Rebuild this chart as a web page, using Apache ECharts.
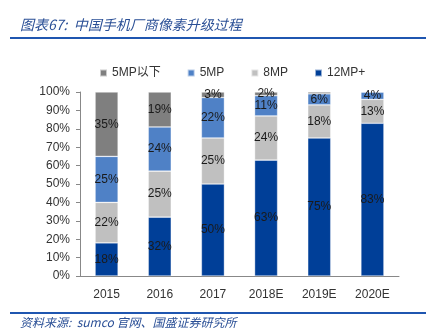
<!DOCTYPE html>
<html><head><meta charset="utf-8">
<script src="https://cdn.jsdelivr.net/npm/echarts@6/dist/echarts.min.js"></script>
<style>html,body{margin:0;padding:0;background:#fff}#c{width:427px;height:334px}</style>
</head><body><div id="c"></div>
<script>
const categories = ['2015','2016','2017','2018E','2019E','2020E'];
const mp12 = [18,32,50,63,75,83];
const mp8 = [22,25,25,24,18,13];
const mp5 = [25,24,22,11,6,4];
const below5 = [35,19,3,2,1,0];
const seriesNames = ['5MP以下','5MP','8MP','12MP+'];
const yTicks = ['0%','10%','20%','30%','40%','50%','60%','70%','80%','90%','100%'];

const font = '"Liberation Sans","DejaVu Sans","Noto Sans CJK SC",sans-serif';
const chart = echarts.init(document.getElementById('c'));
function mk(name, data, color){
  return {name, type:'bar', stack:'s', data, barWidth:23,
    itemStyle:{color, borderColor:'rgba(255,255,255,0.6)', borderWidth:0.6},
    label:{show:true, position:'inside', color:'#1a1a1a', fontSize:12, fontFamily:font,
      formatter:p=> p.value>=2 ? p.value+'%' : ''}};
}
chart.setOption({
  animation:false,
  textStyle:{fontFamily:font},
  graphic:[
    {type:'text', left:20, top:18, style:{text:'图表67:  中国手机厂商像素升级过程', fill:'#2a4f96', font:'italic 14px "Noto Sans CJK SC",sans-serif'}},
    {type:'rect', shape:{x:10,y:37,width:416,height:2}, style:{fill:'#1f56b0'}},
    {type:'rect', shape:{x:10,y:312,width:416,height:2}, style:{fill:'#1f56b0'}},
    {type:'text', left:20, top:316, style:{text:'资料来源:  sumco 官网、国盛证券研究所', fill:'#2a4f96', font:'italic 12px "Noto Sans CJK SC",sans-serif'}}
  ],
  legend:{top:62, left:94, itemWidth:7, itemHeight:7, itemGap:26, icon:'rect',
    data:seriesNames, textStyle:{fontSize:12, color:'#333', fontFamily:font}},
  grid:{left:80, right:28, top:92, bottom:58},
  xAxis:{type:'category', data:categories,
    axisLine:{lineStyle:{color:'#888'}},
    axisTick:{inside:true, length:3, lineStyle:{color:'#888'}},
    axisLabel:{color:'#333', fontSize:12, margin:13, fontFamily:font}},
  yAxis:{type:'value', min:0, max:100, interval:10,
    axisLine:{show:true, lineStyle:{color:'#888'}},
    axisTick:{show:true, length:4, lineStyle:{color:'#888'}},
    splitLine:{show:false},
    axisLabel:{color:'#333', fontSize:12, margin:10, fontFamily:font, formatter:v=>yTicks[Math.round(v/10)]}},
  series:[
    mk('12MP+', mp12, '#003f98'),
    mk('8MP', mp8, '#c0c0c0'),
    mk('5MP', mp5, '#4f81c6'),
    mk('5MP以下', below5, '#7f7f7f')
  ]
});
</script></body></html>
